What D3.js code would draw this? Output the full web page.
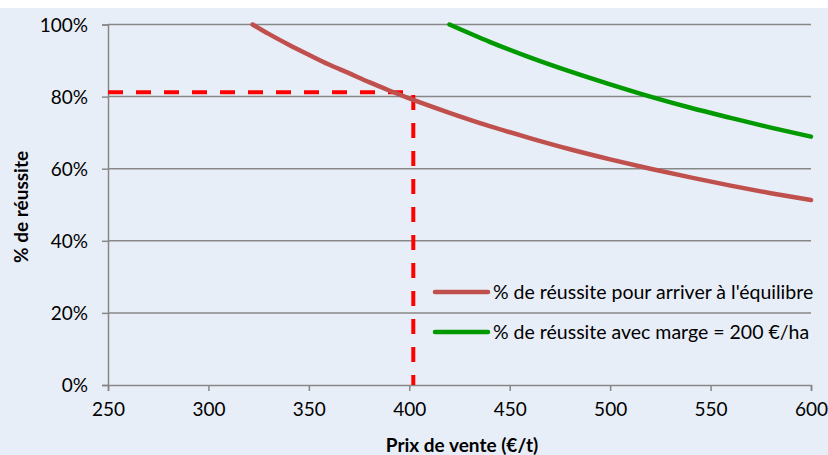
<!DOCTYPE html>
<html>
<head>
<meta charset="utf-8">
<script src="https://cdn.jsdelivr.net/npm/d3@7"></script>
<style>
  body { margin: 0; background: #fff; }
  svg { display: block; }
  text { font-family: Lato, "Open Sans", sans-serif; fill: #000; }
</style>
</head>
<body>
<svg id="chart" width="828" height="455"></svg>
<script>
// Prix de vente (€/t) and % de réussite
const priceEquilibre = [322, 330, 340, 350, 360, 370, 380, 390, 400, 420, 440, 460, 480, 500, 520, 540, 560, 580, 600];
const rateEquilibre  = [100, 97.4, 94.4, 91.6, 88.9, 86.5, 84.0, 81.7, 79.5, 75.5, 71.8, 68.5, 65.4, 62.6, 60.0, 57.6, 55.3, 53.2, 51.3];
const priceMarge = [420, 440, 460, 480, 500, 520, 540, 560, 580, 600];
const rateMarge  = [100, 95.2, 90.9, 87.0, 83.4, 80.0, 76.9, 74.1, 71.4, 68.9];

// dashed reading guide
const guidePrice = 402;
const guideRate = 81.2;

const xTicks = [250, 300, 350, 400, 450, 500, 550, 600];
const yTicks = [0, 20, 40, 60, 80, 100];
const seriesNames = [
  "% de réussite pour arriver à l'équilibre",
  "% de réussite avec marge = 200 €/ha"
];
const seriesColors = ["#C0504D", "#009A00"];

const svg = d3.select('#chart');

// background panel (white strip on top)
svg.append('rect')
  .attr('x', 0).attr('y', 8)
  .attr('width', 828).attr('height', 447)
  .attr('fill', '#E8EEF7');

const x = d3.scaleLinear().domain([250, 600]).range([108, 811]);
const y = d3.scaleLinear().domain([0, 100]).range([385, 24.5]);

// gridlines
svg.append('g')
  .selectAll('line')
  .data(yTicks.filter(d => d > 0))
  .join('line')
  .attr('x1', x(250)).attr('x2', x(600))
  .attr('y1', d => y(d)).attr('y2', d => y(d))
  .attr('stroke', '#878787')
  .attr('stroke-width', 1.5);

// axes
const xAxis = svg.append('g')
  .attr('transform', `translate(0,${y(0)})`)
  .call(d3.axisBottom(x).tickValues(xTicks).tickSize(6).tickPadding(12).tickFormat(d3.format('d')));
const yAxis = svg.append('g')
  .attr('transform', `translate(${x(250)},0)`)
  .call(d3.axisLeft(y).tickValues(yTicks).tickSize(6).tickPadding(14).tickFormat(d => d + '%'));

[xAxis, yAxis].forEach(g => {
  g.select('.domain').attr('stroke', '#878787').attr('stroke-width', 1.5);
  g.selectAll('.tick line').attr('stroke', '#878787').attr('stroke-width', 1.5);
  g.selectAll('.tick text').style('font-size', '19px').style('font-family', 'Lato, sans-serif').attr('fill', '#000');
});
yAxis.selectAll('.tick text').attr('dy', '0.35em');

// dashed guide
svg.append('path')
  .attr('d', d3.line()([[x(250), y(guideRate)], [x(guidePrice), y(guideRate)], [x(guidePrice), y(0)]]))
  .attr('fill', 'none')
  .attr('stroke', '#FF0000')
  .attr('stroke-width', 4)
  .attr('stroke-dasharray', '15,13');

// curves
const line = d3.line()
  .x(d => x(d[0]))
  .y(d => y(d[1]))
  .curve(d3.curveMonotoneX);

const series = [
  d3.zip(priceEquilibre, rateEquilibre),
  d3.zip(priceMarge, rateMarge)
];

svg.append('g')
  .selectAll('path')
  .data(series)
  .join('path')
  .attr('d', line)
  .attr('fill', 'none')
  .attr('stroke', (d, i) => seriesColors[i])
  .attr('stroke-width', 4.5)
  .attr('stroke-linecap', 'round');

// legend
const legend = svg.append('g')
  .selectAll('g')
  .data(seriesNames)
  .join('g')
  .attr('transform', (d, i) => `translate(435,${292 + i * 40})`);

legend.append('line')
  .attr('x1', 0).attr('x2', 53)
  .attr('stroke', (d, i) => seriesColors[i])
  .attr('stroke-width', 4.5)
  .attr('stroke-linecap', 'round');

legend.append('text')
  .attr('x', 58)
  .attr('dy', '0.35em')
  .style('font-size', '19.5px')
  .text(d => d);

// axis titles
svg.append('text')
  .attr('x', 462).attr('y', 445)
  .attr('dy', '0.35em')
  .attr('text-anchor', 'middle')
  .style('font-size', '19px')
  .style('font-weight', 'bold')
  .text('Prix de vente (€/t)');

svg.append('text')
  .attr('transform', 'translate(21,207) rotate(-90)')
  .attr('dy', '0.35em')
  .attr('text-anchor', 'middle')
  .style('font-size', '19px')
  .style('font-weight', 'bold')
  .text('% de réussite');
</script>
</body>
</html>
